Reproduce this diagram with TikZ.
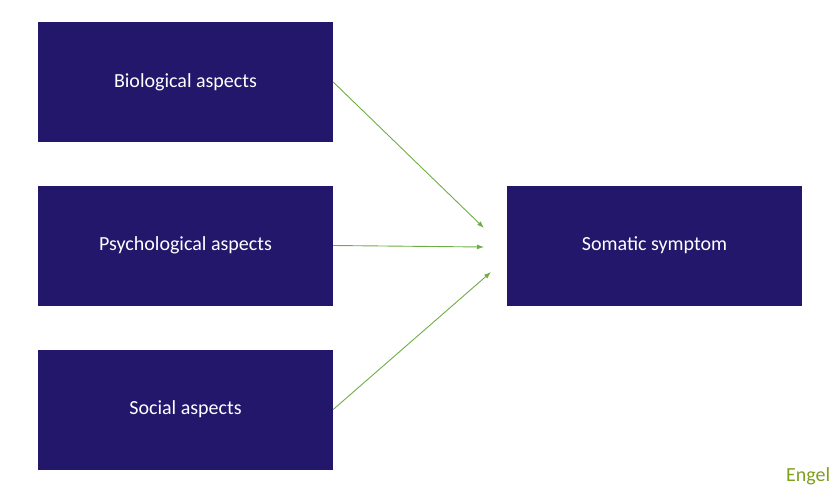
\documentclass[tikz,border=0pt]{standalone}
\usepackage{fontspec}
\usetikzlibrary{arrows.meta}
\setmainfont{Carlito}
\begin{document}
\begin{tikzpicture}[x=1pt,y=-1pt,
  box/.style={draw=none,fill=boxc,minimum width=295pt,minimum height=120pt,inner sep=0pt,text=white,font=\fontsize{20}{24}\selectfont},
  arr/.style={draw=arrc,line width=0.9pt,-{Latex[length=7pt,width=5pt]}}]
\definecolor{boxc}{HTML}{23176B}
\definecolor{arrc}{HTML}{70AD47}
\definecolor{engc}{HTML}{7F9F1F}
\useasboundingbox (0,0) rectangle (840,496);
\node[box] (bio) at (185.5,82) {Biological aspects};
\node[box] (psy) at (185.5,245.5) {Psychological aspects};
\node[box] (soc) at (185.5,409.5) {Social aspects};
\node[box] (som) at (654.5,245.5) {Somatic symptom};
\coordinate (e1) at (484,228);
\coordinate (e2) at (484,247);
\coordinate (e3) at (491,272);
\draw[arr] (bio.east) -- (e1);
\draw[arr] (psy.east) -- (e2);
\draw[arr] (soc.east) -- (e3);
\node[anchor=west,text=engc,font=\fontsize{20}{24}\selectfont,inner sep=0pt] (eng) at (786,476) {Engel};
\end{tikzpicture}
\end{document}
